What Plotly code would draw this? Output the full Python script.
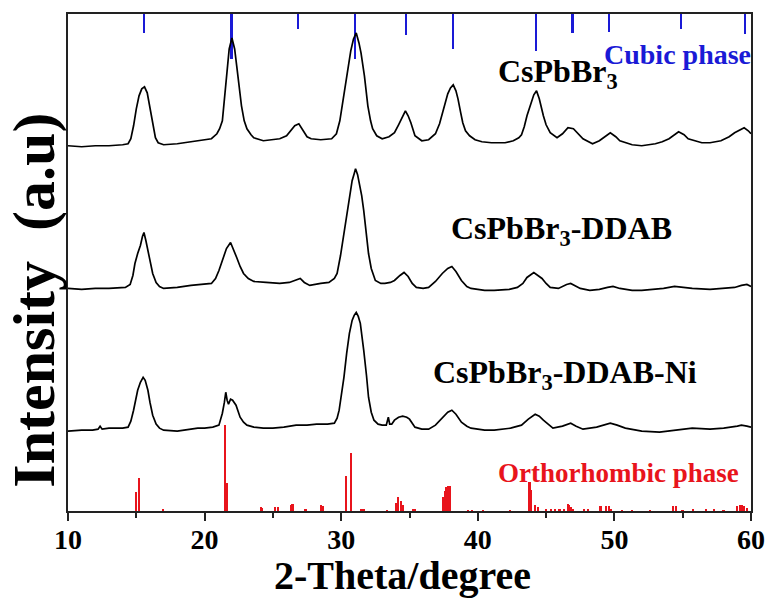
import plotly.graph_objects as go

# ---------------- data ----------------
# CsPbBr3 (top trace), stacked intensity (a.u.)
x_cspbbr3 = [10.0, 11.0, 12.0, 13.0, 14.0, 14.4, 14.6, 14.8, 15.0, 15.2, 15.4, 15.6, 15.8, 16.0, 16.2, 16.4,
             16.6, 17.0, 18.0, 19.0, 20.0, 20.5, 20.9, 21.1, 21.3, 21.5, 21.6, 21.8, 22.0, 22.2, 22.35, 22.5,
             22.7, 22.9, 23.1, 23.4, 23.6, 24.3, 25.0, 25.5, 26.0, 26.3, 26.6, 26.9, 27.2, 27.5, 27.8, 28.5,
             29.3, 29.65, 29.9, 30.15, 30.35, 30.5, 30.7, 30.9, 31.1, 31.3, 31.45, 31.7, 31.95, 32.15, 32.3,
             32.6, 33.0, 33.5, 33.9, 34.2, 34.5, 34.7, 34.9, 35.1, 35.4, 35.9, 36.4, 36.9, 37.2, 37.5, 37.8,
             38.0, 38.2, 38.4, 38.55, 38.75, 38.9, 39.1, 39.4, 39.8, 40.3, 41.0, 42.0, 42.6, 43.0, 43.2, 43.4,
             43.6, 43.9, 44.1, 44.3, 44.5, 44.8, 45.0, 45.3, 45.8, 46.2, 46.6, 47.0, 47.3, 47.7, 48.4, 48.9,
             49.2, 49.7, 50.1, 50.4, 51.3, 52.0, 53.0, 53.5, 54.0, 54.7, 55.1, 55.4, 56.4, 57.0, 57.8, 58.4,
             58.8, 59.2, 59.5, 59.8, 60.0]
y_cspbbr3 = [366, 365, 366, 366, 367, 368, 373, 386, 403, 416, 423, 425, 419, 403, 386, 374,
             369, 367, 368, 370, 372, 373, 378, 383, 391, 421, 441, 463, 474, 463, 446, 426,
             406, 391, 383, 377, 374, 371, 372, 373, 376, 381, 386, 388, 381, 375, 373, 372,
             373, 378, 391, 413, 431, 446, 461, 473, 479, 469, 459, 436, 406, 391, 383,
             376, 373, 375, 379, 387, 396, 401, 396, 389, 376, 371, 372, 378, 388, 403, 418,
             424, 427, 421, 413, 399, 389, 381, 376, 372, 370, 369, 369, 371, 374, 377, 385,
             396, 408, 417, 421, 413, 396, 387, 379, 374, 378, 384, 383, 379, 373, 368, 371,
             374, 379, 375, 371, 367, 366, 368, 370, 373, 380, 377, 373, 369, 369, 371, 375,
             379, 382, 384, 381, 378]

# CsPbBr3-DDAB (middle trace)
x_ddab = [10.0, 11.0, 12.0, 13.0, 14.2, 14.55, 14.75, 14.9, 15.1, 15.3, 15.45, 15.56, 15.7, 15.85, 16.0,
          16.2, 16.45, 16.7, 17.0, 18.0, 19.0, 20.0, 20.5, 20.8, 21.05, 21.3, 21.6, 21.9, 22.1, 22.35,
          22.6, 22.85, 23.2, 23.6, 24.5, 25.5, 26.2, 26.6, 27.0, 27.3, 27.7, 28.5, 29.1, 29.5, 29.7,
          29.95, 30.2, 30.4, 30.6, 30.8, 30.95, 31.05, 31.2, 31.3, 31.5, 31.65, 31.85, 32.0, 32.2, 32.5,
          32.9, 33.2, 33.6, 33.9, 34.3, 34.6, 34.9, 35.2, 35.5, 36.0, 36.4, 36.9, 37.4, 37.8, 38.1, 38.4,
          38.8, 39.2, 39.5, 40.5, 41.2, 42.3, 42.9, 43.3, 43.6, 43.9, 44.1, 44.4, 44.7, 45.0, 45.3, 45.9,
          46.5, 46.8, 47.2, 47.5, 48.2, 48.9, 49.5, 49.9, 50.4, 51.3, 52.0, 52.8, 53.6, 54.4, 55.0, 55.7,
          57.0, 58.0, 58.8, 59.3, 59.7, 60.0]
y_ddab = [223, 222, 223, 223, 224, 227, 236, 248, 258, 266, 275, 279, 271, 261, 249,
          238, 229, 225, 223, 224, 226, 227, 228, 233, 241, 251, 263, 269, 263, 254,
          245, 238, 233, 230, 229, 228, 229, 231, 233, 229, 226, 228, 229, 233, 238,
          256, 278, 298, 314, 331, 338, 343, 337, 331, 316, 301, 276, 258, 243, 231,
          228, 228, 229, 231, 236, 239, 235, 228, 224, 223, 224, 230, 238, 243, 245, 240,
          231, 225, 223, 221, 221, 222, 224, 228, 234, 237, 239, 236, 233, 228, 224, 223,
          227, 228, 225, 223, 221, 222, 224, 225, 223, 221, 221, 222, 223, 225, 224, 223,
          222, 223, 224, 226, 227, 225]

# CsPbBr3-DDAB-Ni (bottom trace)
x_ni = [10.0, 11.0, 11.8, 12.2, 12.35, 12.5, 13.0, 13.5, 14.0, 14.4, 14.6, 14.8, 14.95, 15.1, 15.3, 15.5,
        15.65, 15.85, 16.0, 16.2, 16.45, 16.7, 17.0, 18.0, 19.0, 19.5, 20.0, 20.6, 21.05, 21.3, 21.45,
        21.55, 21.65, 21.75, 21.9, 22.05, 22.3, 22.45, 22.6, 22.85, 23.1, 23.6, 24.3, 25.0, 25.8, 26.7,
        27.5, 28.2, 29.0, 29.5, 29.7, 29.85, 30.0, 30.2, 30.4, 30.6, 30.8, 30.95, 31.1, 31.25, 31.4,
        31.55, 31.65, 31.85, 32.0, 32.2, 32.4, 32.7, 33.0, 33.3, 33.4, 33.45, 33.55, 33.7, 33.9, 34.2,
        34.5, 34.8, 35.0, 35.4, 35.9, 36.4, 36.9, 37.4, 37.8, 38.1, 38.4, 38.8, 39.2, 39.5, 40.5, 41.2,
        42.4, 43.2, 43.7, 44.2, 44.5, 44.8, 45.2, 45.5, 46.2, 46.8, 47.2, 47.7, 48.7, 49.2, 49.7, 50.2,
        50.8, 52.0, 53.3, 54.5, 55.7, 57.0, 58.0, 59.0, 59.3, 59.7, 60.0]
y_ni = [80, 81, 81, 82, 85, 82, 83, 83, 83, 84, 90, 101, 112, 121, 129, 134,
        131, 121, 109, 96, 87, 83, 81, 80, 82, 83, 83, 84, 86, 98, 109,
        119, 111, 107, 112, 111, 106, 100, 94, 89, 86, 84, 83, 83, 84, 86,
        86, 87, 87, 88, 93, 101, 115, 134, 158, 178, 191, 196, 199, 195, 188,
        174, 161, 136, 114, 99, 91, 87, 86, 86, 91, 94, 87, 87, 91, 94,
        95, 94, 92, 84, 82, 82, 86, 93, 99, 101, 97, 89, 85, 83, 81, 81,
        83, 86, 92, 97, 95, 91, 86, 83, 85, 88, 85, 82, 84, 86, 88, 86,
        83, 80, 79, 81, 83, 82, 83, 85, 86, 85, 84]

# Orthorhombic phase reference lines (position, relative height)
ortho_pos = [14.99, 15.2, 17.0, 21.5, 21.65, 24.15, 24.25, 25.2, 25.4, 26.35, 26.45, 27.4, 28.55, 28.65,
             30.4, 30.75, 31.5, 31.65, 33.4, 34.0, 34.2, 34.4, 34.55, 35.3, 35.4, 37.5, 37.6, 37.7, 37.85,
             38.0, 39.3, 39.6, 40.4, 42.4, 43.8, 43.9, 44.2, 44.4, 45.0, 45.4, 45.7, 46.0, 46.3, 46.6, 46.7,
             46.8, 47.0, 47.8, 48.1, 49.0, 49.4, 49.6, 49.8, 50.6, 51.3, 52.6, 54.3, 54.5, 55.0, 55.8, 56.7,
             57.3, 58.0, 59.0, 59.2, 59.35, 59.5, 59.7]
ortho_int = [19, 33, 1.5, 86, 28, 4, 3, 4, 4, 6, 7, 1.5, 6, 5,
             35, 58, 2, 1.5, 1, 8, 14, 10, 6, 2, 1.5, 14, 20, 24, 25,
             25, 1, 1, 1, 1, 29, 21, 6, 4, 1.5, 2, 2, 2, 2, 7, 6,
             4, 2, 1.5, 2, 5, 5, 5, 2, 1, 1, 1, 5, 5, 1, 1.5, 1.5,
             1.5, 1, 5, 6, 6, 5, 3]

# Cubic phase reference lines (position, relative height), drawn down from the top
cubic_pos = [15.56, 21.99, 26.85, 31.0, 34.75, 38.2, 44.3, 46.95, 49.65, 54.9, 59.6]
cubic_int = [19, 45, 15, 45, 21, 35, 37, 19, 18, 15, 20]

x_ticks = [10, 20, 30, 40, 50, 60]
y_top = 498

FONT = "Liberation Serif, Times New Roman, serif"

fig = go.Figure()

for xs, ys in [(x_cspbbr3, y_cspbbr3), (x_ddab, y_ddab), (x_ni, y_ni)]:
    fig.add_trace(go.Scatter(x=xs, y=ys, mode="lines",
                             line=dict(color="black", width=1.7), showlegend=False))

fig.add_trace(go.Bar(x=ortho_pos, y=ortho_int, width=0.12, marker=dict(color="#e8141c", line=dict(width=0)),
                     showlegend=False))
fig.add_trace(go.Bar(x=cubic_pos, y=cubic_int, base=[y_top - v for v in cubic_int], width=0.12,
                     marker=dict(color="#1a1ad6", line=dict(width=0)), showlegend=False))

ann_font = dict(family=FONT, size=32, color="black")
fig.add_annotation(x=41.3, y=438, text="<b>CsPbBr<sub>3</sub></b>", showarrow=False,
                   xanchor="left", yanchor="middle", font=ann_font)
fig.add_annotation(x=37.9, y=281, text="<b>CsPbBr<sub>3</sub>-DDAB</b>", showarrow=False,
                   xanchor="left", yanchor="middle", font=ann_font)
fig.add_annotation(x=36.6, y=137, text="<b>CsPbBr<sub>3</sub>-DDAB-Ni</b>", showarrow=False,
                   xanchor="left", yanchor="middle", font=ann_font)
fig.add_annotation(x=49.1, y=457, text="<b>Cubic phase</b>", showarrow=False,
                   xanchor="left", yanchor="middle", font=dict(family=FONT, size=28, color="#1a1ad6"))
fig.add_annotation(x=41.35, y=38, text="<b>Orthorhombic phase</b>", showarrow=False,
                   xanchor="left", yanchor="middle", font=dict(family=FONT, size=27, color="#e8141c"))

fig.add_annotation(xref="paper", yref="paper", x=-0.05, y=0.425, text="<b>Intensity  (a.u)</b>",
                   textangle=-90, showarrow=False, xanchor="center", yanchor="middle",
                   font=dict(family=FONT, size=60, color="black"))
fig.add_annotation(xref="paper", yref="paper", x=0.49, y=-0.13, text="<b>2-Theta/degree</b>",
                   showarrow=False, xanchor="center", yanchor="middle",
                   font=dict(family=FONT, size=40, color="black"))

fig.update_layout(
    width=777, height=599,
    margin=dict(l=68, r=17, t=13, b=88),
    paper_bgcolor="white", plot_bgcolor="white",
    bargap=0, barmode="overlay",
    showlegend=False,
)
fig.update_xaxes(range=[10, 60], tickvals=x_ticks, ticktext=[f"<b>{t}</b>" for t in x_ticks],
                 ticks="outside", ticklen=8, tickwidth=2, tickcolor="#222",
                 minor=dict(dtick=5, tick0=10, ticks="outside", ticklen=5, tickwidth=2, tickcolor="#222"),
                 showline=True, linecolor="#222", linewidth=2, mirror=True,
                 showgrid=False, zeroline=False, ticklabelstandoff=-6,
                 tickfont=dict(family=FONT, size=28, color="black"))
fig.update_yaxes(range=[0, y_top], showticklabels=False, ticks="",
                 showline=True, linecolor="#222", linewidth=2, mirror=True,
                 showgrid=False, zeroline=False)

fig.write_html("out.html")
